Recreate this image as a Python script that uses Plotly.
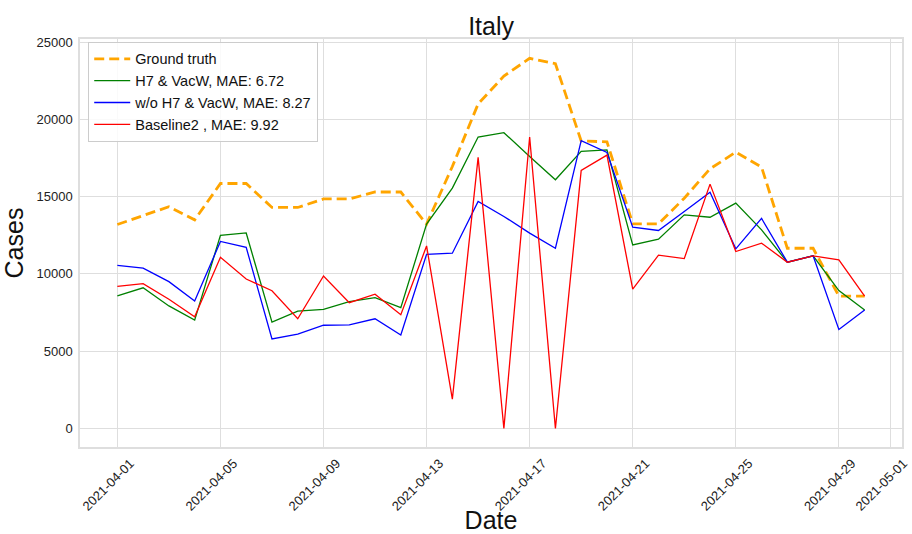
import pandas as pd
import plotly.graph_objects as go

dates = pd.date_range("2021-04-01", "2021-04-30", freq="D")

ground_truth = [13200, 13800, 14350, 13500, 15850, 15850, 14300, 14300, 14850, 14850,
                15300, 15300, 13220, 16950, 21000, 22800, 23950, 23600, 18600, 18550,
                13240, 13240, 14900, 16800, 17880, 16910, 11660, 11660, 8570, 8570]
h7_vacw = [8580, 9100, 7930, 7010, 12500, 12650, 6880, 7600, 7710, 8210,
           8470, 7820, 13220, 15550, 18860, 19140, 17600, 16090, 17930, 18030,
           11880, 12250, 13820, 13670, 14580, 12850, 10760, 11170, 8920, 7670]
wo_h7_vacw = [10550, 10380, 9500, 8250, 12100, 11720, 5790, 6110, 6680, 6700,
              7100, 6050, 11270, 11340, 14690, 13720, 12640, 11660, 18620, 17860,
              13020, 12810, 14040, 15290, 11620, 13590, 10760, 11170, 6410, 7670]
baseline2 = [9200, 9370, 8360, 7230, 11080, 9670, 8910, 7100, 9870, 8140,
             8690, 7360, 11810, 1900, 17540, 0, 18860, 0, 16700, 17690,
             9010, 11210, 10990, 15810, 11450, 11990, 10760, 11170, 10910, 8570]

names = ["Ground truth", "H7 & VacW, MAE: 6.72", "w/o H7 & VacW, MAE: 8.27", "Baseline2 , MAE: 9.92"]

x_ticks = pd.date_range("2021-04-01", "2021-05-01", freq="4D").append(pd.DatetimeIndex(["2021-05-01"]))
x_tick_text = [d.strftime("%Y-%m-%d") for d in x_ticks]
y_ticks = [0, 5000, 10000, 15000, 20000, 25000]

font_family = "Liberation Sans, Arial, sans-serif"
grid_color = "#dedede"

fig = go.Figure()
fig.add_trace(go.Scatter(x=dates, y=ground_truth, mode="lines", name=names[0],
                         line=dict(color="#FFA500", width=2.8, dash="10px,5px")))
fig.add_trace(go.Scatter(x=dates, y=h7_vacw, mode="lines", name=names[1],
                         line=dict(color="green", width=1.3)))
fig.add_trace(go.Scatter(x=dates, y=wo_h7_vacw, mode="lines", name=names[2],
                         line=dict(color="blue", width=1.3)))
fig.add_trace(go.Scatter(x=dates, y=baseline2, mode="lines", name=names[3],
                         line=dict(color="red", width=1.3)))

# 5% padding on both axes
x0 = dates[0] - pd.Timedelta(days=1.45)
x1 = dates[-1] + pd.Timedelta(days=1.45)
y_span = max(ground_truth) - 0

fig.update_layout(
    width=912, height=534,
    margin=dict(l=80, r=10, t=39, b=87),
    paper_bgcolor="white", plot_bgcolor="white",
    font=dict(family=font_family, size=13, color="#222"),
    title=dict(text="Italy", x=0.5385, xanchor="center", y=0.951, yanchor="middle",
               font=dict(size=25, color="#111")),
    showlegend=True,
    legend=dict(x=0.01, y=0.993, xanchor="left", yanchor="top",
                bgcolor="rgba(255,255,255,0.85)", bordercolor="#cccccc", borderwidth=1,
                font=dict(size=14.5, color="#111"), tracegroupgap=0, itemwidth=36),
    xaxis=dict(range=[x0, x1], tickvals=list(x_ticks), ticktext=x_tick_text,
               tickangle=-45, ticklabelshift=13, ticklabelstandoff=2,
               ticklabeloverflow="allow",
               showgrid=True, gridcolor=grid_color, gridwidth=1, automargin=False,
               showline=True, linecolor=grid_color, linewidth=1.5, mirror=True,
               ticks="", zeroline=False, tickfont=dict(size=13),
               title=dict(text="Date", font=dict(size=25, color="#111"), standoff=6)),
    yaxis=dict(range=[-0.05 * y_span, 25200], tickvals=y_ticks, tickformat="d",
               showgrid=True, gridcolor=grid_color, gridwidth=1, automargin=False,
               showline=True, linecolor=grid_color, linewidth=1.5, mirror=True,
               ticks="", zeroline=False, tickfont=dict(size=13), ticklabelstandoff=3,
               title=dict(text="Cases", font=dict(size=25, color="#111"), standoff=8)),
)

fig.write_html("out.html")
